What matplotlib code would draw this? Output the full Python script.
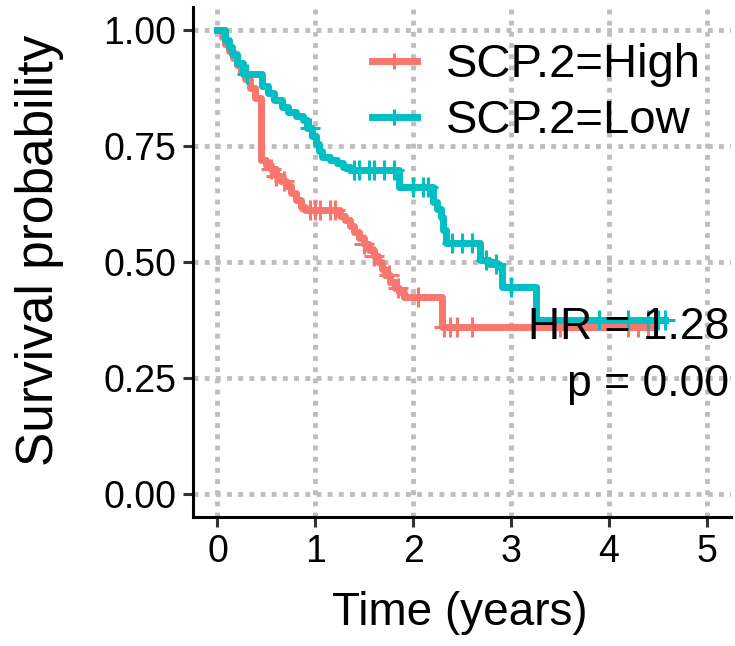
import numpy as np
import matplotlib.pyplot as plt
plt.rcParams.update({'font.size': 27, 'font.family': ['Liberation Sans', 'DejaVu Sans']})

# Kaplan-Meier step points (time in years, survival probability)
t_high = [0, 0.05, 0.08, 0.12, 0.16, 0.2, 0.24, 0.28, 0.33, 0.38, 0.45, 0.5, 0.55, 0.6, 0.65, 0.7,
          0.75, 0.8, 0.85, 0.89, 1.25, 1.3, 1.35, 1.4, 1.45, 1.5, 1.55, 1.6, 1.64, 1.68, 1.71, 1.76,
          1.81, 1.86, 1.91, 2.30]
s_high = [1.0, 0.985, 0.97, 0.955, 0.94, 0.925, 0.91, 0.895, 0.875, 0.855, 0.72, 0.71, 0.70, 0.685,
          0.675, 0.665, 0.65, 0.634, 0.62, 0.612, 0.60, 0.59, 0.578, 0.565, 0.553, 0.54, 0.527, 0.513,
          0.50, 0.486, 0.472, 0.458, 0.445, 0.435, 0.425, 0.36]
t_high_end = 4.42
cens_high = [0.55, 0.6, 0.68, 0.95, 1.0, 1.05, 1.15, 1.2, 1.5, 1.6, 1.75, 1.85, 2.05, 2.32, 2.38,
             2.45, 2.6, 3.5, 4.2, 4.3, 4.4]

t_low = [0, 0.08, 0.12, 0.15, 0.2, 0.26, 0.46, 0.52, 0.58, 0.66, 0.72, 0.8, 0.87, 0.92, 0.97, 1.01,
         1.04, 1.07, 1.15, 1.22, 1.28, 1.35, 1.86, 2.2, 2.24, 2.28, 2.31, 2.34, 2.68, 2.78, 2.88, 2.91,
         3.26]
s_low = [1.0, 0.98, 0.965, 0.95, 0.93, 0.907, 0.88, 0.865, 0.85, 0.834, 0.825, 0.815, 0.806, 0.79,
         0.772, 0.756, 0.74, 0.726, 0.72, 0.713, 0.705, 0.698, 0.662, 0.63, 0.615, 0.597, 0.57, 0.541,
         0.504, 0.497, 0.489, 0.446, 0.375]
t_low_end = 4.57
cens_low = [0.3, 0.95, 1.4, 1.45, 1.55, 1.6, 1.7, 1.8, 2.0, 2.1, 2.15, 2.4, 2.5, 2.6, 2.75, 2.85,
            3.0, 3.9, 4.2, 4.4, 4.5, 4.57]

red = '#F8766D'
teal = '#00BFC4'

def surv_at(ts, ss, x):
    idx = np.searchsorted(ts, x, side='right') - 1
    return np.array(ss)[idx]

fig = plt.figure(figsize=(7.35, 6.46), dpi=100)
ax = fig.add_axes([0.2626, 0.1997, 0.732, 0.789])

for ts, ss, tend, cens, col, lab in [(t_high, s_high, t_high_end, cens_high, red, 'SCP.2=High'),
                                     (t_low, s_low, t_low_end, cens_low, teal, 'SCP.2=Low')]:
    xs = list(ts) + [tend]
    ys = list(ss) + [ss[-1]]
    ax.step(xs, ys, where='post', color=col, linewidth=5, zorder=3)
    ax.plot(cens, surv_at(ts, ss, cens), '+', color=col, markersize=14, mew=2.2, zorder=3)
    ax.plot([], [], '-', marker='+', color=col, linewidth=5, markersize=12, mew=2.2, label=lab)

ax.set_xlim(-0.25, 5.25)
ax.set_ylim(-0.05, 1.05)
ax.set_xticks([0, 1, 2, 3, 4, 5])
ax.set_yticks([0, 0.25, 0.5, 0.75, 1.0])
ax.set_yticklabels(['0.00', '0.25', '0.50', '0.75', '1.00'])
ax.grid(True, color='#BEBEBE', linestyle=(0, (1, 1.3)), linewidth=3.5, zorder=0)
ax.set_axisbelow(True)
for s in ['top', 'right']:
    ax.spines[s].set_visible(False)
for s in ['left', 'bottom']:
    ax.spines[s].set_linewidth(2.2)
ax.tick_params(length=7, width=2.2, color='#333333', labelcolor='black', pad=5)

ax.set_xlabel('Time (years)', fontsize=33, va='baseline')
ax.xaxis.set_label_coords(0.495, -0.212)
ax.set_ylabel('Survival probability', fontsize=37, va='center')
ax.yaxis.set_label_coords(-0.285, 0.524)

ax.text(5.23, 0.36, 'HR = 1.28', fontsize=32, ha='right', va='center', zorder=4)
ax.text(5.23, 0.235, 'p = 0.00', fontsize=32, ha='right', va='center', zorder=4)

ax.legend(loc='upper left', bbox_to_anchor=(0.506, 0.933), bbox_transform=fig.transFigure,
          frameon=False, fontsize=34, handlelength=0.95, handletextpad=0.62, labelspacing=0.25,
          borderpad=0, borderaxespad=0)

plt.savefig('out.png', dpi=100)
